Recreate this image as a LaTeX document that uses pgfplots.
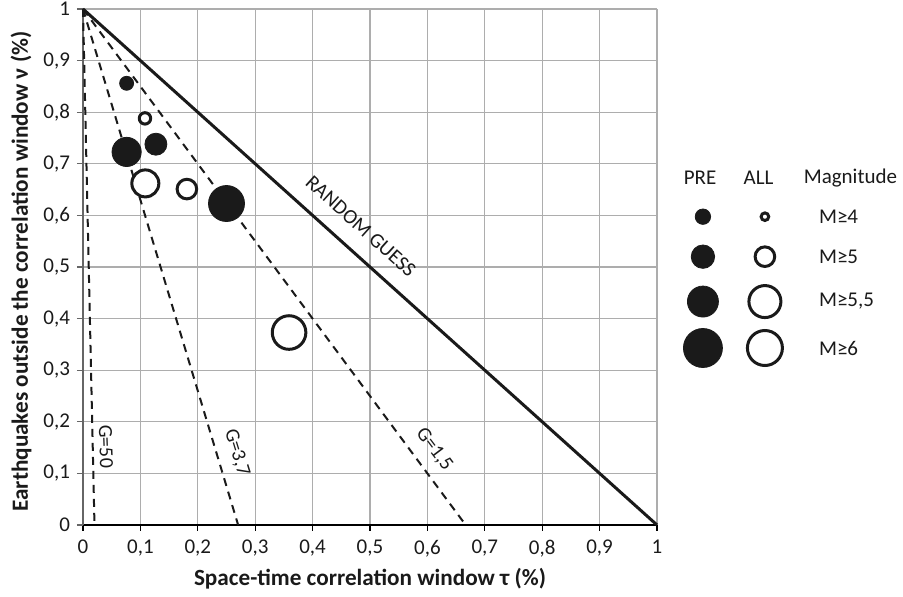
\documentclass[border=0pt]{standalone}
\usepackage{pgfplots}
\pgfplotsset{compat=1.18}
\usepackage{fontspec}
\setmainfont{Carlito}
\definecolor{mk}{HTML}{1A1A1A}
\begin{document}
\begin{tikzpicture}
\useasboundingbox (-41.5pt,-36pt) rectangle (410pt,262.5pt);
\begin{axis}[
 width=287pt, height=258pt, scale only axis,
 xmin=0,xmax=1,ymin=0,ymax=1,
 axis lines=left,
 x axis line style={-, black, line width=0.8pt},
 y axis line style={-, black!60, line width=0.8pt},
 xtick={0,0.1,0.2,0.3,0.4,0.5,0.6,0.7,0.8,0.9,1},
 ytick={0,0.1,0.2,0.3,0.4,0.5,0.6,0.7,0.8,0.9,1},
 grid=major, major grid style={black!32, line width=0.6pt},
 tick align=outside, major tick length=3pt,
 xtick style={black, line width=0.6pt},
 ytick style={black!60, line width=0.6pt},
 /pgf/number format/assume math mode=true,
 /pgf/number format/use comma,
 ticklabel style={font=\fontsize{10.5}{12}\selectfont, text=mk},
 xticklabel style={yshift=-1pt},
 xlabel={Space-time correlation window τ (\%)},
 ylabel={Earthquakes outside the correlation window ν (\%)},
 label style={font=\bfseries\fontsize{11.6}{13}\selectfont, text=mk},
 xlabel style={at={(axis description cs:0.5,-0.104)}, anchor=center},
 ylabel style={at={(axis description cs:-0.108,0.491)}, anchor=center},
 clip=false,
]
% random guess and gain lines
\addplot[mk, line width=1.5pt] coordinates {(0,1) (1,0)};
\addplot[mk, line width=1pt, dash pattern=on 4pt off 3pt] coordinates {(0,1) (0.02,0)};
\addplot[mk, line width=1pt, dash pattern=on 4pt off 3pt] coordinates {(0,1) (0.27027,0)};
\addplot[mk, line width=1pt, dash pattern=on 4pt off 3pt] coordinates {(0,1) (0.66667,0)};
% PRE (filled)
\addplot[only marks, mark=*, mark size=3.5pt, mk] coordinates {(0.076,0.856)};
\addplot[only marks, mark=*, mark size=5.5pt, mk] coordinates {(0.127,0.738)};
\addplot[only marks, mark=*, mark size=7.3pt, mk] coordinates {(0.076,0.723)};
\addplot[only marks, mark=*, mark size=9pt, mk] coordinates {(0.250,0.623)};
% ALL (open)
\addplot[only marks, mark=*, mark size=2.85pt, mk, mark options={fill=white, line width=1.5pt}] coordinates {(0.108,0.788)};
\addplot[only marks, mark=*, mark size=4.9pt, mk, mark options={fill=white, line width=1.5pt}] coordinates {(0.181,0.651)};
\addplot[only marks, mark=*, mark size=6.75pt, mk, mark options={fill=white, line width=1.5pt}] coordinates {(0.1086,0.662)};
\addplot[only marks, mark=*, mark size=8.4pt, mk, mark options={fill=white, line width=1.5pt}] coordinates {(0.359,0.373)};
% line labels
\node[rotate=-42, font=\fontsize{10.3}{12}\selectfont, text=mk] at (axis cs:0.484,0.579) {RANDOM GUESS};
\node[rotate=-88, font=\fontsize{10}{12}\selectfont, text=mk] at (axis cs:0.040,0.152) {G=50};
\node[rotate=-73, font=\fontsize{10}{12}\selectfont, text=mk] at (axis cs:0.268,0.140) {G=3,7};
\node[rotate=-53, font=\fontsize{10}{12}\selectfont, text=mk] at (axis cs:0.612,0.146) {G=1,5};
% legend
\node[font=\fontsize{10.5}{12}\selectfont, text=mk] at (axis cs:1.075,0.672) {PRE};
\node[font=\fontsize{10.5}{12}\selectfont, text=mk] at (axis cs:1.177,0.672) {ALL};
\node[font=\fontsize{10.5}{12}\selectfont, text=mk] at (axis cs:1.337,0.672) {Magnitude};
\addplot[only marks, mark=*, mark size=3.85pt, mk] coordinates {(1.080,0.5975)};
\addplot[only marks, mark=*, mark size=5.85pt, mk] coordinates {(1.080,0.520)};
\addplot[only marks, mark=*, mark size=7.75pt, mk] coordinates {(1.080,0.433)};
\addplot[only marks, mark=*, mark size=9.75pt, mk] coordinates {(1.080,0.343)};
\addplot[only marks, mark=*, mark size=1.9pt, mk, mark options={fill=white, line width=1.5pt}] coordinates {(1.188,0.5975)};
\addplot[only marks, mark=*, mark size=4.9pt, mk, mark options={fill=white, line width=1.5pt}] coordinates {(1.188,0.520)};
\addplot[only marks, mark=*, mark size=8pt, mk, mark options={fill=white, line width=1.5pt}] coordinates {(1.188,0.433)};
\addplot[only marks, mark=*, mark size=8.75pt, mk, mark options={fill=white, line width=1.5pt}] coordinates {(1.188,0.343)};
\node[anchor=west, font=\fontsize{10.5}{12}\selectfont, text=mk] at (axis cs:1.270,0.5975) {M≥4};
\node[anchor=west, font=\fontsize{10.5}{12}\selectfont, text=mk] at (axis cs:1.270,0.520) {M≥5};
\node[anchor=west, font=\fontsize{10.5}{12}\selectfont, text=mk] at (axis cs:1.270,0.433) {M≥5,5};
\node[anchor=west, font=\fontsize{10.5}{12}\selectfont, text=mk] at (axis cs:1.270,0.343) {M≥6};
\end{axis}
\end{tikzpicture}
\end{document}
